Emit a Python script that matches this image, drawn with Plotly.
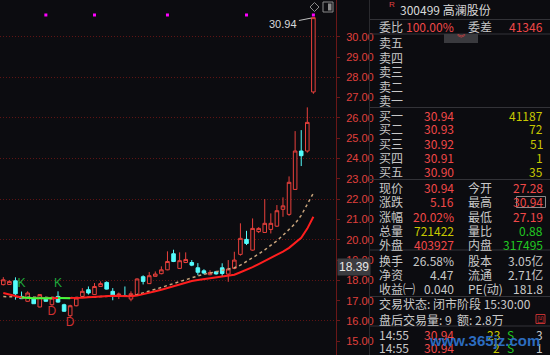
import plotly.graph_objects as go

W, H = 550, 355
BG = "#0c0c10"
RED = "#e8403c"
CYAN = "#54fcfc"
LBL = "#c8c8c8"
VRED = "#f04848"
YEL = "#c8c800"
GRN = "#22c822"

# ---------------- data ----------------
opens = [17.79, 17.80, 17.98, 17.21, 16.97, 17.13, 16.69, 17.13, 16.80, 17.21,
         16.80, 16.26, 16.75, 17.21, 17.54, 17.30, 17.70, 17.90, 17.46, 17.28,
         17.25, 17.08, 17.30, 18.18, 17.84, 18.20, 18.33, 18.52, 19.31, 18.59,
         18.88, 18.88, 18.62, 18.47, 18.28, 18.42, 18.62, 18.31, 18.59, 19.28,
         20.02, 19.49, 20.40, 20.36, 20.51, 20.67, 21.50, 21.25, 22.48, 24.37,
         24.37, 27.28]
closes = [18.03, 17.95, 17.34, 17.10, 17.38, 16.85, 17.30, 16.97, 17.13, 16.93,
          16.48, 16.75, 17.13, 17.46, 17.38, 17.70, 17.84, 17.57, 17.21, 17.32,
          17.22, 17.34, 18.07, 17.95, 18.23, 18.31, 18.52, 18.93, 18.93, 18.97,
          19.03, 18.75, 18.40, 18.36, 18.39, 18.32, 18.34, 18.56, 19.00, 20.07,
          19.82, 20.56, 20.56, 20.81, 20.81, 21.43, 21.67, 22.83, 24.37, 24.14,
          25.78, 30.94]
highs = [18.16, 18.00, 18.15, 17.45, 17.46, 17.20, 17.32, 17.20, 17.20, 17.46,
         16.85, 16.80, 17.15, 17.62, 17.70, 17.87, 17.95, 17.95, 17.62, 17.40,
         17.70, 17.46, 18.10, 18.25, 18.41, 18.44, 18.69, 19.43, 19.51, 19.38,
         19.38, 19.00, 18.85, 18.55, 18.50, 18.47, 18.84, 19.00, 19.41, 20.81,
         20.44, 21.05, 20.62, 22.00, 21.30, 21.71, 22.09, 23.12, 25.35, 25.40,
         26.52, 30.94]
lows = [17.75, 17.78, 17.05, 17.08, 16.95, 16.85, 16.67, 16.95, 16.75, 16.90,
        16.45, 16.15, 16.72, 17.20, 17.30, 17.28, 17.68, 17.55, 17.02, 17.08,
        17.20, 16.97, 17.28, 17.80, 17.82, 18.18, 18.30, 18.50, 18.90, 18.57,
        18.85, 18.70, 18.25, 18.30, 18.25, 18.28, 18.18, 17.93, 18.55, 19.22,
        19.74, 19.46, 20.33, 20.34, 20.31, 20.63, 21.13, 21.18, 22.45, 23.63,
        24.29, 27.19]
ma_red = [17.38, 17.30, 17.22, 17.16, 17.13, 17.12, 17.12, 17.12, 17.12, 17.13,
          17.13, 17.12, 17.13, 17.15, 17.17, 17.19, 17.22, 17.24, 17.24, 17.23,
          17.22, 17.22, 17.25, 17.31, 17.38, 17.46, 17.54, 17.63, 17.72, 17.82,
          17.90, 17.97, 18.02, 18.06, 18.10, 18.14, 18.18, 18.23, 18.28, 18.40,
          18.52, 18.65, 18.80, 18.95, 19.10, 19.25, 19.42, 19.60, 19.85, 20.10,
          20.55, 21.13]
ma_dash = [17.20, 17.20, 17.20, 17.19, 17.18, 17.17, 17.16, 17.15, 17.15, 17.15,
           17.15, 17.15, 17.15, 17.15, 17.16, 17.18, 17.20, 17.22, 17.22, 17.22,
           17.23, 17.25, 17.30, 17.38, 17.46, 17.55, 17.65, 17.75, 17.85, 17.95,
           18.05, 18.15, 18.22, 18.30, 18.36, 18.42, 18.48, 18.55, 18.62, 18.75,
           18.92, 19.10, 19.30, 19.50, 19.72, 19.95, 20.22, 20.50, 20.80, 21.20,
           21.75, 22.30]
green_idx_a = [3, 4, 5, 6, 7, 8]
green_idx_b = [9, 10, 11]
mark_idx = [7, 15, 27, 40, 51]
mark_price = 31.07
k_idx, k_price = [3, 9], [17.82, 17.82]
d_idx, d_price = [8, 11], [16.44, 15.92]
price_ticks = [15, 16, 17, 18, 19, 20, 21, 22, 23, 24, 25, 26, 27, 28, 29, 30]

days = list(range(len(opens)))

fig = go.Figure()

fig.add_trace(go.Candlestick(
    x=days, open=opens, high=highs, low=lows, close=closes,
    increasing=dict(line=dict(color=RED, width=1), fillcolor=BG),
    decreasing=dict(line=dict(color=CYAN, width=1), fillcolor=CYAN),
    whiskerwidth=0, showlegend=False, hoverinfo="skip"))

fig.add_trace(go.Scatter(x=days, y=ma_dash, mode="lines",
                         line=dict(color="#c8a47c", width=1.5, dash="dot"),
                         showlegend=False, hoverinfo="skip"))
fig.add_trace(go.Scatter(x=days, y=ma_red, mode="lines",
                         line=dict(color="#ff1e1e", width=2),
                         showlegend=False, hoverinfo="skip"))
for idx in (green_idx_a, green_idx_b):
    fig.add_trace(go.Scatter(x=[days[i] for i in idx], y=[ma_red[i] for i in idx],
                             mode="lines", line=dict(color="#3cff3c", width=2),
                             showlegend=False, hoverinfo="skip"))

fig.add_trace(go.Scatter(x=mark_idx, y=[mark_price] * len(mark_idx), mode="markers",
                         marker=dict(symbol="square", size=3, color="#ff00ff"),
                         showlegend=False, hoverinfo="skip"))
fig.add_trace(go.Scatter(x=k_idx, y=k_price, mode="text", text=["K"] * len(k_idx),
                         textfont=dict(color="#1fa83c", size=12, family="Liberation Sans"),
                         showlegend=False, hoverinfo="skip"))
fig.add_trace(go.Scatter(x=d_idx, y=d_price, mode="text", text=["D"] * len(d_idx),
                         textfont=dict(color="#d03030", size=12, family="Liberation Sans"),
                         showlegend=False, hoverinfo="skip"))

XD = 336 / W
fig.update_layout(
    width=W, height=H, margin=dict(l=0, r=0, t=0, b=0),
    paper_bgcolor=BG, plot_bgcolor=BG, boxgap=0.16,
    xaxis=dict(domain=[0, XD], range=[-0.543, 54.72], visible=False,
               rangeslider=dict(visible=False), fixedrange=True),
    yaxis=dict(domain=[0, 1], range=[14.325, 31.808], side="right",
               tickvals=price_ticks, ticktext=["%.2f" % v for v in price_ticks],
               tickfont=dict(color="#e0403c", size=11, family="Liberation Sans"),
               showgrid=False, zeroline=False, showline=True, linecolor="#6a1818",
               linewidth=1, ticks="outside", ticklen=3, tickcolor="#6a1818",
               ticklabelstandoff=4),
    yaxis2=dict(domain=[0, 1], range=[14.325, 31.808], overlaying="y", anchor="x",
                dtick=2, tick0=0, showticklabels=False, showgrid=True,
                gridcolor="#5e1414", griddash="1px,2px", gridwidth=1, zeroline=False),
)
fig.add_trace(go.Scatter(x=[None], y=[None], yaxis="y2", showlegend=False))

fig.add_annotation(x=51, y=30.94, xref="x", yref="y", text="30.94",
                   showarrow=True, ax=-30, ay=6, arrowhead=0, arrowwidth=1,
                   arrowcolor="#c0c0c0", standoff=2,
                   font=dict(color="#d8d8d8", size=11, family="Liberation Sans"))


def X(px):
    return px / W


def Y(py):
    return 1 - py / H


def txt(px, py, s, color=LBL, size=12, anchor="left", family="Noto Sans CJK SC", **kw):
    fig.add_annotation(x=X(px), y=Y(py), xref="paper", yref="paper", text=s,
                       showarrow=False, xanchor=anchor, yanchor="middle",
                       font=dict(color=color, size=size, family=family), **kw)


def hline(py, x0=370, x1=550, color="#333338"):
    fig.add_shape(type="line", xref="paper", yref="paper", x0=X(x0), x1=X(x1),
                  y0=Y(py), y1=Y(py), line=dict(color=color, width=1))


# price tag
txt(337, 266.5, "18.39", color="#e8e8e8", size=12, family="Liberation Sans",
    bgcolor="#3c3c40", borderpad=1)

# top-right icons of chart
fig.add_shape(type="path", xref="paper", yref="paper",
              path=f"M {X(314.5)} {Y(2.5)} L {X(319)} {Y(7)} L {X(314.5)} {Y(11.5)} L {X(310)} {Y(7)} Z",
              line=dict(color="#8a8a8a", width=1))
fig.add_shape(type="rect", xref="paper", yref="paper", x0=X(323), x1=X(333),
              y0=Y(2), y1=Y(12), line=dict(color="#8a8a8a", width=1))
fig.add_shape(type="rect", xref="paper", yref="paper", x0=X(328), x1=X(331.5),
              y0=Y(3.5), y1=Y(10.5), fillcolor="#8a8a8a", line=dict(width=0))

# panel border
fig.add_shape(type="line", xref="paper", yref="paper", x0=X(369.5), x1=X(369.5),
              y0=0, y1=1, line=dict(color="#2a2a2e", width=1))

# ---------------- right panel ----------------
stock_code = "300499"
stock_name = "高澜股份"
txt(387, 5, "R", color="#e04040", size=8, family="Liberation Sans")
txt(398, 10, stock_code + " " + stock_name, color="#d8d8d8", size=12)
hline(19.5)
txt(377, 26.7, "委比")
txt(456, 26.7, "100.00%", VRED, anchor="right")
txt(466, 26.7, "委差")
txt(545, 26.7, "41346", VRED, anchor="right")
hline(34)
fig.add_shape(type="rect", xref="paper", yref="paper", x0=X(444), x1=X(478),
              y0=Y(34), y1=Y(43), fillcolor="#3a3a3e", line=dict(width=0))
txt(461, 38, "︾", color="#e04040", size=8, anchor="center")

sell_labels = ["卖五", "卖四", "卖三", "卖二", "卖一"]
sell_y = [42.3, 57, 71.7, 86.3, 100]
for s, yy in zip(sell_labels, sell_y):
    txt(377, yy, s)
hline(107.5)

buy_labels = ["买一", "买二", "买三", "买四", "买五"]
buy_prices = ["30.94", "30.93", "30.92", "30.91", "30.90"]
buy_vols = ["41187", "72", "51", "1", "35"]
buy_y = [115, 128.7, 143, 157.3, 171.7]
for s, p, v, yy in zip(buy_labels, buy_prices, buy_vols, buy_y):
    txt(377, yy, s)
    txt(456, yy, p, VRED, anchor="right")
    txt(545, yy, v, YEL, anchor="right")
hline(179.5)

quote_rows = [
    ("现价", "30.94", VRED, "今开", "27.28", VRED),
    ("涨跌", "5.16", VRED, "最高", "30.94", VRED),
    ("涨幅", "20.02%", VRED, "最低", "27.19", VRED),
    ("总量", "721422", YEL, "量比", "0.88", GRN),
    ("外盘", "403927", VRED, "内盘", "317495", GRN),
]
quote_y = [187.7, 201.8, 216.5, 230.2, 244]
for (l1, v1, c1, l2, v2, c2), yy in zip(quote_rows, quote_y):
    txt(377, yy, l1)
    txt(456, yy, v1, c1, anchor="right")
    txt(466, yy, l2)
    txt(545, yy, v2, c2, anchor="right")
fig.add_shape(type="rect", xref="paper", yref="paper", x0=X(516.5), x1=X(545.5),
              y0=Y(196.5), y1=Y(207.5), line=dict(color="#8a8a8a", width=1))
hline(250)

fin_rows = [
    ("换手", "26.58%", "股本", "3.05亿"),
    ("净资", "4.47", "流通", "2.71亿"),
    ("收益㈠", "0.040", "PE(动)", "181.8"),
]
fin_y = [260.7, 274, 288.5]
for (l1, v1, l2, v2), yy in zip(fin_rows, fin_y):
    txt(377, yy, l1)
    txt(456, yy, v1, LBL, anchor="right")
    txt(466, yy, l2)
    txt(545, yy, v2, LBL, anchor="right")
hline(296.5)

txt(377, 303.5, "交易状态: 闭市阶段 15:30:00")
txt(377, 319, "盘后交易量: 9  额: 2.8万")
fig.add_shape(type="rect", xref="paper", yref="paper", x0=X(536), x1=X(545),
              y0=Y(314.5), y1=Y(323.5), line=dict(color="#c03030", width=1))
txt(540.5, 319, "凹", color="#c03030", size=7, anchor="center")
hline(326)

tick_times = ["14:55", "14:55"]
tick_prices = ["30.94", "30.94"]
tick_vols = ["23", "2"]
tick_side = ["S", "S"]
tick_cnt = ["3", "1"]
tick_y = [334.3, 347.5]
for t, p, v, sd, c, yy in zip(tick_times, tick_prices, tick_vols, tick_side, tick_cnt, tick_y):
    txt(377, yy, t)
    txt(456, yy, p, VRED, anchor="right")
    txt(502, yy, v, YEL, anchor="right")
    txt(516, yy, sd, GRN, anchor="right")
    txt(545, yy, c, LBL, anchor="right")

txt(484, 340, "<b>www.365jz.com</b>", color="#2c6cc0", size=15, anchor="center",
    family="Liberation Sans")

fig.write_html("out.html")
